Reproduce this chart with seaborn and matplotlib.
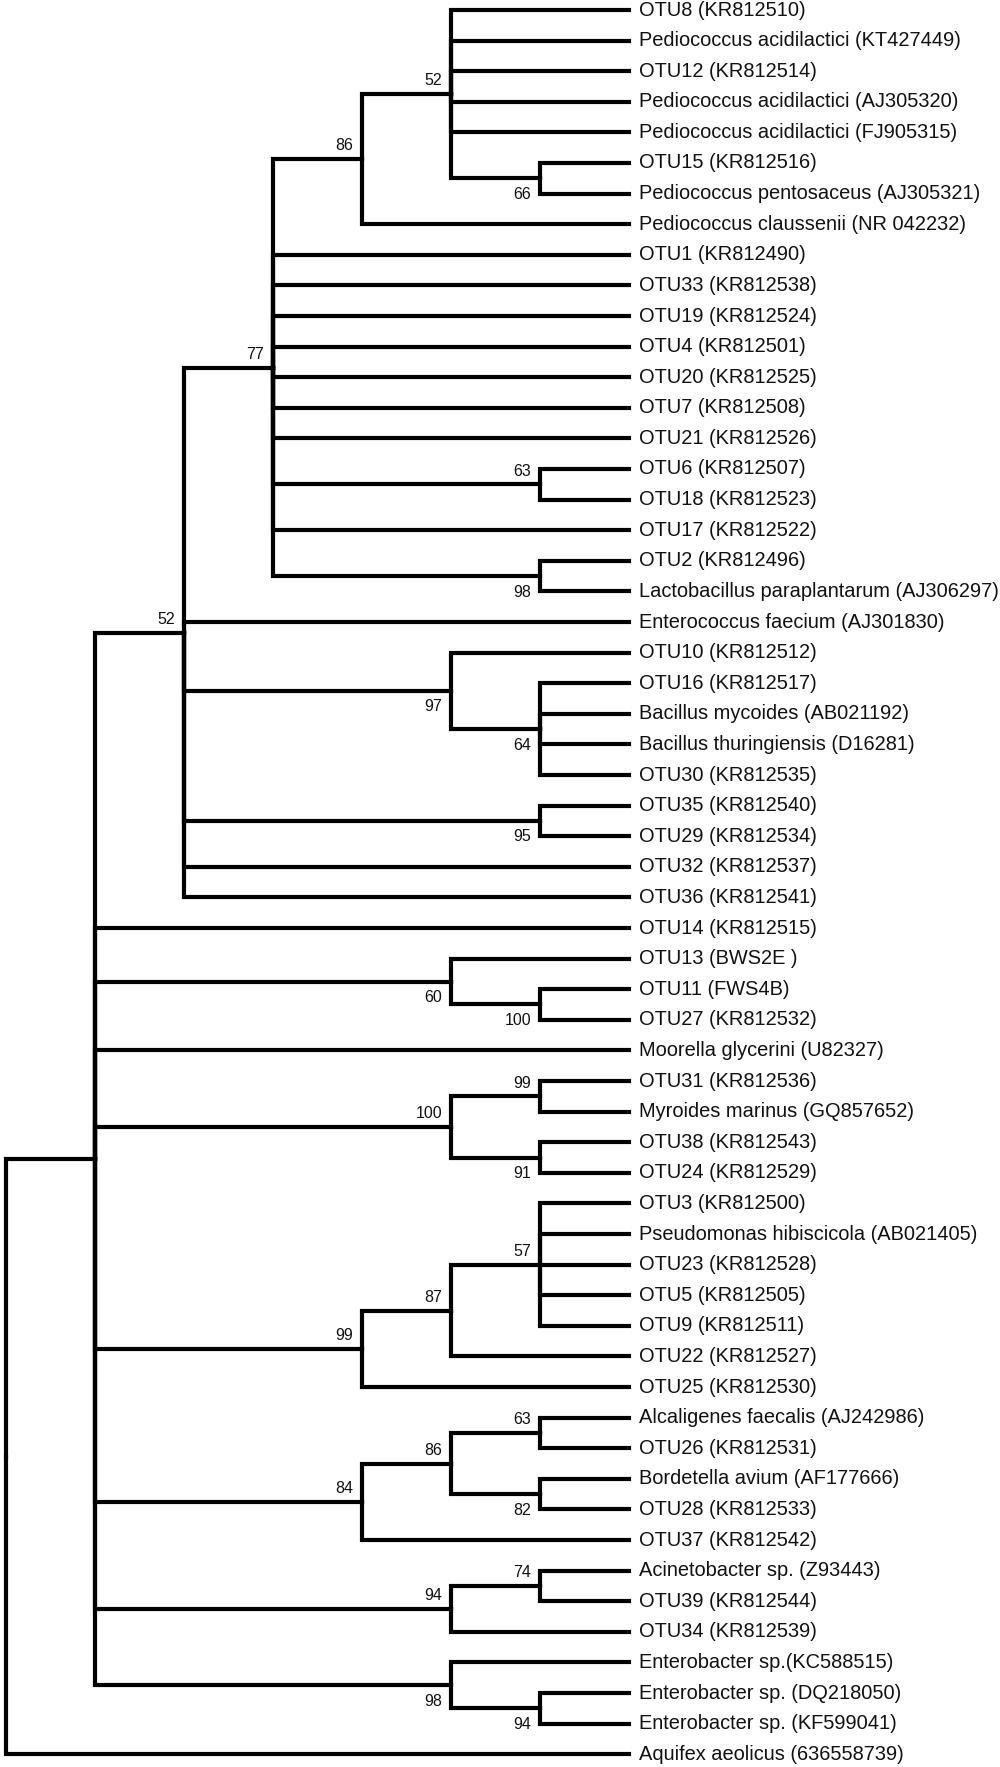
import matplotlib
matplotlib.use("Agg")
import matplotlib.pyplot as plt
import seaborn as sns
import pandas as pd

# ---------------- data ----------------
leaf_labels = [
    "OTU8 (KR812510)",
    "Pediococcus acidilactici (KT427449)",
    "OTU12 (KR812514)",
    "Pediococcus acidilactici (AJ305320)",
    "Pediococcus acidilactici (FJ905315)",
    "OTU15 (KR812516)",
    "Pediococcus pentosaceus (AJ305321)",
    "Pediococcus claussenii (NR 042232)",
    "OTU1 (KR812490)",
    "OTU33 (KR812538)",
    "OTU19 (KR812524)",
    "OTU4 (KR812501)",
    "OTU20 (KR812525)",
    "OTU7 (KR812508)",
    "OTU21 (KR812526)",
    "OTU6 (KR812507)",
    "OTU18 (KR812523)",
    "OTU17 (KR812522)",
    "OTU2 (KR812496)",
    "Lactobacillus paraplantarum (AJ306297)",
    "Enterococcus faecium (AJ301830)",
    "OTU10 (KR812512)",
    "OTU16 (KR812517)",
    "Bacillus mycoides (AB021192)",
    "Bacillus thuringiensis (D16281)",
    "OTU30 (KR812535)",
    "OTU35 (KR812540)",
    "OTU29 (KR812534)",
    "OTU32 (KR812537)",
    "OTU36 (KR812541)",
    "OTU14 (KR812515)",
    "OTU13 (BWS2E )",
    "OTU11 (FWS4B)",
    "OTU27 (KR812532)",
    "Moorella glycerini (U82327)",
    "OTU31 (KR812536)",
    "Myroides marinus (GQ857652)",
    "OTU38 (KR812543)",
    "OTU24 (KR812529)",
    "OTU3 (KR812500)",
    "Pseudomonas hibiscicola (AB021405)",
    "OTU23 (KR812528)",
    "OTU5 (KR812505)",
    "OTU9 (KR812511)",
    "OTU22 (KR812527)",
    "OTU25 (KR812530)",
    "Alcaligenes faecalis (AJ242986)",
    "OTU26 (KR812531)",
    "Bordetella avium (AF177666)",
    "OTU28 (KR812533)",
    "OTU37 (KR812542)",
    "Acinetobacter sp. (Z93443)",
    "OTU39 (KR812544)",
    "OTU34 (KR812539)",
    "Enterobacter sp.(KC588515)",
    "Enterobacter sp. (DQ218050)",
    "Enterobacter sp. (KF599041)",
    "Aquifex aeolicus (636558739)",
]

# topology: (bootstrap, [children]); ints are leaf indices
tree = (None, [
    (None, [
        (52, [
            (77, [
                (86, [
                    (52, [0, 1, 2, 3, 4, (66, [5, 6])]),
                    7]),
                8, 9, 10, 11, 12, 13, 14, (63, [15, 16]), 17, (98, [18, 19])]),
            20,
            (97, [21, (64, [22, 23, 24, 25])]),
            (95, [26, 27]),
            28, 29]),
        30,
        (60, [31, (100, [32, 33])]),
        34,
        (100, [(99, [35, 36]), (91, [37, 38])]),
        (99, [(87, [(57, [39, 40, 41, 42, 43]), 44]), 45]),
        (84, [(86, [(63, [46, 47]), (82, [48, 49])]), 50]),
        (94, [(74, [51, 52]), 53]),
        (98, [54, (94, [55, 56])]),
    ]),
    57])

# placement of bootstrap labels (pre-order of supported nodes): "a" above, "b" below
support_side = ["a", "a", "a", "a", "b", "a", "b", "b", "b", "b",
                "b", "b", "a", "a", "b", "a", "a", "a", "a", "a",
                "a", "b", "a", "a", "b", "b"]

# ---------------- layout ----------------
def height(node):
    if isinstance(node, int):
        return 0
    return 1 + max(height(c) for c in node[1])

max_depth = height(tree)

edges = []      # rows for seaborn
pos_lookup = {}
pre_nodes = []

def layout(node):
    """returns (x, y) of node in (depth, leaf-index) units"""
    if isinstance(node, int):
        return max_depth, float(node)
    val, kids = node
    if val is not None:
        pre_nodes.append(node)
    x = max_depth - height(node)
    pos = [layout(c) for c in kids]
    y = (pos[0][1] + pos[-1][1]) / 2.0
    for (cx, cy) in pos:
        eid = len(edges) // 3
        edges.append((eid, 0, x, y))
        edges.append((eid, 1, x, cy))
        edges.append((eid, 2, cx, cy))
    pos_lookup[id(node)] = (x, y)
    return x, y

layout(tree)
df = pd.DataFrame(edges, columns=["edge", "order", "x", "y"])

# ---------------- drawing ----------------
sns.set_theme(style="white")
plt.rcParams["font.family"] = ["Liberation Sans", "DejaVu Sans"]

W, H = 1000, 1767
fig = plt.figure(figsize=(W / 100, H / 100), dpi=100)
ax = fig.add_axes([0, 0, 1, 1])

x0_px, dx_px = 6.0, 89.0
y0_px, dy_px = 10.0, 30.6
ax.set_xlim(-x0_px / dx_px, (W - x0_px) / dx_px)
ax.set_ylim((H - y0_px) / dy_px, -y0_px / dy_px)

sns.lineplot(data=df, x="x", y="y", units="edge", estimator=None, sort=False,
             color="black", linewidth=3.0, ax=ax, legend=False)
for ln in ax.lines:
    ln.set_solid_joinstyle("miter")
    ln.set_solid_capstyle("projecting")

for i, lab in enumerate(leaf_labels):
    ax.annotate(lab, xy=(max_depth, i), xytext=(7.0, 0), textcoords="offset points",
                ha="left", va="center", fontsize=14.4, color="#111111")

for node, side in zip(pre_nodes, support_side):
    nx, ny = pos_lookup[id(node)]
    dy = 9.5 if side == "a" else -11.5
    ax.annotate(str(node[0]), xy=(nx, ny), xytext=(-6.5, dy), textcoords="offset points",
                ha="right", va="center", fontsize=11.5, color="#111111")

ax.axis("off")
fig.savefig("out.png", dpi=100, facecolor="white")
